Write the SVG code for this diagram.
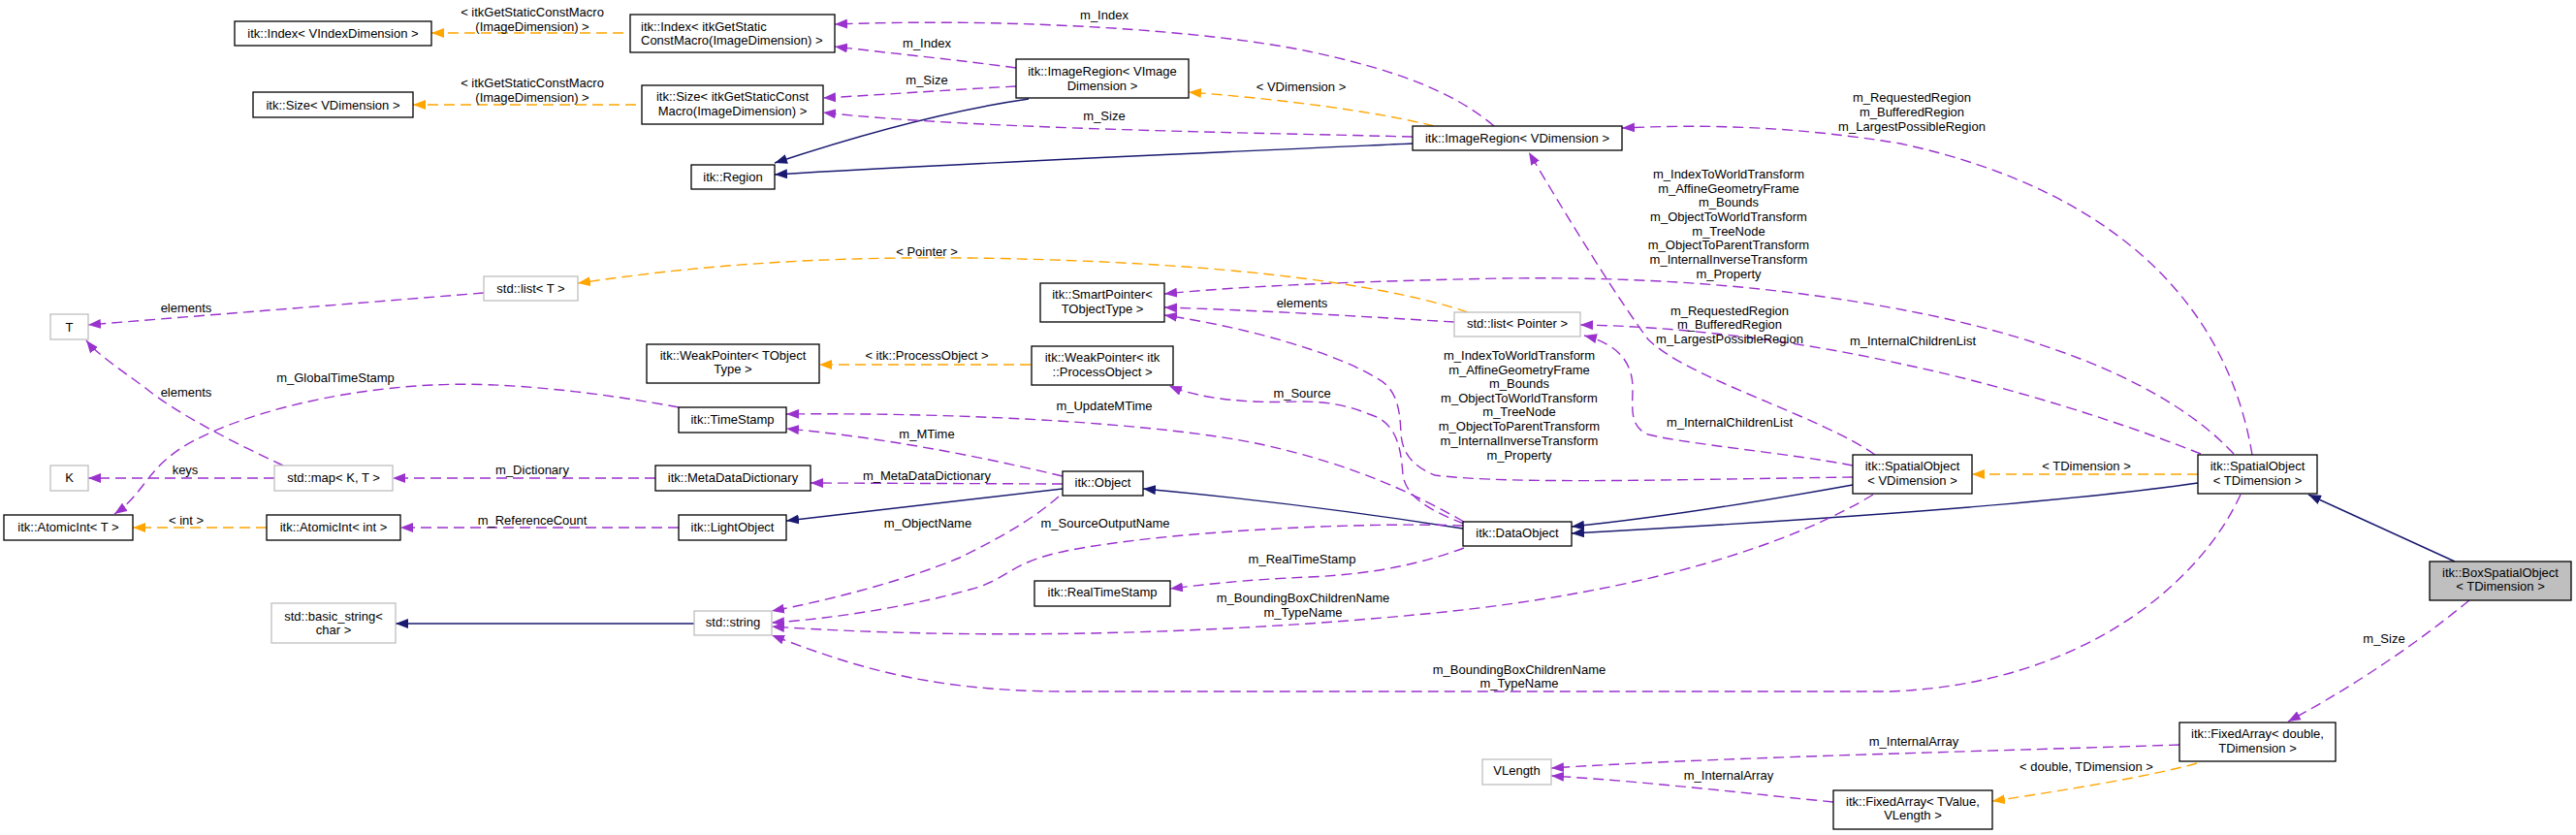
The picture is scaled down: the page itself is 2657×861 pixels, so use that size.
<svg xmlns="http://www.w3.org/2000/svg" width="2657" height="861" viewBox="0 0 2657 861">
<style>
text{font-family:"Liberation Sans",Arial,Helvetica,sans-serif;font-size:13px;fill:#000}
.n rect{fill:#fff;stroke:#000;stroke-width:1.3}
.n.u rect{stroke:#bfbfbf}
.n.cur rect{fill:#bfbfbf}
.n text,.lbl text{text-anchor:middle}
.n text.l{text-anchor:start}
.e{fill:none;stroke-width:1.4}
.p{stroke:#9a32cd;stroke-dasharray:11,6;marker-end:url(#ap)}
.o{stroke:#ffa500;stroke-dasharray:11,6;marker-end:url(#ao)}
.b{stroke:#191970;marker-end:url(#ab)}
</style>
<defs>
<marker id="ap" markerUnits="userSpaceOnUse" markerWidth="14" markerHeight="10" refX="13" refY="5" orient="auto"><path d="M0,0 L13,5 L0,10 z" fill="#9a32cd"/></marker>
<marker id="ao" markerUnits="userSpaceOnUse" markerWidth="14" markerHeight="10" refX="13" refY="5" orient="auto"><path d="M0,0 L13,5 L0,10 z" fill="#ffa500"/></marker>
<marker id="ab" markerUnits="userSpaceOnUse" markerWidth="14" markerHeight="10" refX="13" refY="5" orient="auto"><path d="M0,0 L13,5 L0,10 z" fill="#191970"/></marker>
</defs>
<rect width="2657" height="861" fill="#fff"/>

<g id="connectors">
<path class="e o" d="M643,34 L445,34"/>
<path class="e o" d="M656,108 L426,108"/>
<path class="e p" d="M1048,70 C990,62 920,55 861,48"/>
<path class="e p" d="M1048,89 C990,92 920,97 849,101"/>
<path class="e b" d="M1061,102 Q950,118 799,168"/>
<path class="e b" d="M1457,148 C1300,155 1000,168 799,180"/>
<path class="e p" d="M1541,130 C1500,95 1440,72 1350,53 C1250,32 1050,18 861,25"/>
<path class="e p" d="M1457,141 C1300,137 1000,133 849,116"/>
<path class="e o" d="M1479,130 C1420,115 1320,102 1226,95"/>
<path class="e p" d="M1934,469 C1880,430 1740,390 1700,350 C1670,310 1620,230 1577,157"/>
<path class="e p" d="M2323,469 C2300,330 2200,200 1960,148 C1850,130 1760,128 1673,132"/>
<path class="e p" d="M2304,468 C2250,410 2150,360 2000,327 C1850,295 1700,285 1550,287 C1400,290 1280,295 1201,303"/>
<path class="e p" d="M1500,332 C1400,326 1300,320 1201,317"/>
<path class="e p" d="M1911,492 C1750,494 1560,500 1480,490 C1455,480 1446,465 1445,447 C1444,420 1440,400 1420,390 C1380,365 1290,338 1201,325"/>
<path class="e p" d="M1510,540 C1470,525 1450,510 1447,490 C1445,460 1440,435 1412,427 C1390,418 1370,414 1340,414 C1290,416 1240,412 1206,398"/>
<path class="e p" d="M2270,468 C2200,440 2080,400 1960,375 C1850,350 1720,336 1630,335"/>
<path class="e p" d="M1911,480 C1850,468 1740,458 1700,448 C1680,440 1684,420 1684,400 C1684,375 1670,355 1634,346"/>
<path class="e o" d="M1514,322 C1450,300 1300,270 1000,266 C800,264 680,280 596,292"/>
<path class="e p" d="M499,302 L91,335"/>
<path class="e p" d="M292,480 C240,456 180,425 150,400 C120,378 100,365 89,351"/>
<path class="e p" d="M700,420 C620,405 520,393 446,397 C340,402 240,430 190,460 C150,485 148,510 118,530"/>
<path class="e p" d="M283,493 L91,493"/>
<path class="e p" d="M676,493 L405,493"/>
<path class="e o" d="M275,544 L137,544"/>
<path class="e p" d="M700,544 L413,544"/>
<path class="e o" d="M1063,376 L845,376"/>
<path class="e p" d="M1510,538 C1460,510 1400,480 1300,458 C1200,437 1000,425 811,427"/>
<path class="e p" d="M1096,491 C1000,468 900,450 811,442"/>
<path class="e p" d="M1096,499 L836,498"/>
<path class="e b" d="M1096,504 L811,537"/>
<path class="e b" d="M1509,545 C1400,528 1300,515 1179,504"/>
<path class="e b" d="M1911,500 C1800,520 1700,535 1621,543"/>
<path class="e b" d="M2267,498 C2150,515 1950,532 1621,550"/>
<path class="e b" d="M2532,579 L2381,510"/>
<path class="e o" d="M2267,489 L2034,489"/>
<path class="e p" d="M1092,512 C1060,540 1020,560 990,575 C930,600 850,620 796,630"/>
<path class="e p" d="M1509,542 C1400,538 1200,548 1100,568 C1040,580 1040,598 1000,608 C940,625 860,638 796,642"/>
<path class="e p" d="M1510,565 C1470,580 1420,592 1350,595 C1280,598 1240,603 1207,607"/>
<path class="e p" d="M1932,510 C1850,560 1700,610 1480,632 C1250,655 1000,660 796,646"/>
<path class="e p" d="M2311,510 C2270,600 2150,705 1950,713 L1100,713 C950,713 870,683 796,655"/>
<path class="e b" d="M716,643 L408,643"/>
<path class="e p" d="M2547,619 Q2460,690 2360,744"/>
<path class="e p" d="M2248,768 C2000,776 1750,782 1600,792"/>
<path class="e p" d="M1891,827 C1800,818 1700,806 1600,800"/>
<path class="e o" d="M2266,787 C2220,800 2130,815 2055,826"/>
</g>

<g id="edge-labels" class="lbl">
<text x="549" y="16.5">&lt; itkGetStaticConstMacro</text>
<text x="549" y="31.5">(ImageDimension) &gt;</text>
<text x="549" y="89.5">&lt; itkGetStaticConstMacro</text>
<text x="549" y="104.5">(ImageDimension) &gt;</text>
<text x="956" y="48.5">m_Index</text>
<text x="956" y="86.5">m_Size</text>
<text x="1139" y="20">m_Index</text>
<text x="1139" y="124">m_Size</text>
<text x="1342" y="93.5">&lt; VDimension &gt;</text>
<text x="1972" y="104.5">m_RequestedRegion</text>
<text x="1972" y="120">m_BufferedRegion</text>
<text x="1972" y="135">m_LargestPossibleRegion</text>
<text x="1783" y="184">m_IndexToWorldTransform</text>
<text x="1783" y="199">m_AffineGeometryFrame</text>
<text x="1783" y="213">m_Bounds</text>
<text x="1783" y="228">m_ObjectToWorldTransform</text>
<text x="1783" y="243">m_TreeNode</text>
<text x="1783" y="257">m_ObjectToParentTransform</text>
<text x="1783" y="272">m_InternalInverseTransform</text>
<text x="1783" y="287">m_Property</text>
<text x="1343" y="317">elements</text>
<text x="1567" y="371">m_IndexToWorldTransform</text>
<text x="1567" y="385.5">m_AffineGeometryFrame</text>
<text x="1567" y="400">m_Bounds</text>
<text x="1567" y="415">m_ObjectToWorldTransform</text>
<text x="1567" y="429">m_TreeNode</text>
<text x="1567" y="444">m_ObjectToParentTransform</text>
<text x="1567" y="459">m_InternalInverseTransform</text>
<text x="1567" y="473.5">m_Property</text>
<text x="1784" y="324.5">m_RequestedRegion</text>
<text x="1784" y="339">m_BufferedRegion</text>
<text x="1784" y="353.5">m_LargestPossibleRegion</text>
<text x="1973" y="355.5">m_InternalChildrenList</text>
<text x="1784" y="440">m_InternalChildrenList</text>
<text x="956" y="264">&lt; Pointer &gt;</text>
<text x="192" y="321.5">elements</text>
<text x="192" y="408.5">elements</text>
<text x="346" y="393.5">m_GlobalTimeStamp</text>
<text x="191" y="488.5">keys</text>
<text x="549" y="488.5">m_Dictionary</text>
<text x="192" y="540.5">&lt; int &gt;</text>
<text x="549" y="540.5">m_ReferenceCount</text>
<text x="956" y="371">&lt; itk::ProcessObject &gt;</text>
<text x="1139" y="423">m_UpdateMTime</text>
<text x="956" y="452">m_MTime</text>
<text x="956" y="495">m_MetaDataDictionary</text>
<text x="957" y="544">m_ObjectName</text>
<text x="1140" y="543.5">m_SourceOutputName</text>
<text x="1343" y="409.5">m_Source</text>
<text x="1343" y="580.5">m_RealTimeStamp</text>
<text x="1344" y="621">m_BoundingBoxChildrenName</text>
<text x="1344" y="636">m_TypeName</text>
<text x="1567" y="695">m_BoundingBoxChildrenName</text>
<text x="1567" y="709">m_TypeName</text>
<text x="2152" y="485">&lt; TDimension &gt;</text>
<text x="2459" y="663">m_Size</text>
<text x="1974" y="768.5">m_InternalArray</text>
<text x="1783" y="804">m_InternalArray</text>
<text x="2152" y="795">&lt; double, TDimension &gt;</text>
</g>

<g id="n-index-vindex" class="n"><rect x="242" y="22" width="203" height="25"/><text x="343.5" y="39">itk::Index&lt; VIndexDimension &gt;</text></g>
<g id="n-size-vdim" class="n"><rect x="261" y="95" width="165" height="26"/><text x="343.5" y="112.5">itk::Size&lt; VDimension &gt;</text></g>
<g id="n-index-gsc" class="n"><rect x="650" y="15" width="211" height="39"/><text class="l" x="661" y="31.5">itk::Index&lt; itkGetStatic</text><text class="l" x="661" y="45.5">ConstMacro(ImageDimension) &gt;</text></g>
<g id="n-size-gsc" class="n"><rect x="662" y="88" width="187" height="40"/><text x="755.5" y="104">itk::Size&lt; itkGetStaticConst</text><text x="755.5" y="119">Macro(ImageDimension) &gt;</text></g>
<g id="n-region" class="n"><rect x="713" y="170" width="86" height="25"/><text x="756" y="187">itk::Region</text></g>
<g id="n-imageregion-vimage" class="n"><rect x="1048" y="61" width="178" height="40"/><text x="1137" y="77.5">itk::ImageRegion&lt; VImage</text><text x="1137" y="92.5">Dimension &gt;</text></g>
<g id="n-imageregion-vdim" class="n"><rect x="1457" y="130" width="216" height="25"/><text x="1565" y="146.5">itk::ImageRegion&lt; VDimension &gt;</text></g>
<g id="n-list-t" class="n u"><rect x="499" y="285" width="97" height="25"/><text x="547.5" y="302">std::list&lt; T &gt;</text></g>
<g id="n-t" class="n u"><rect x="52" y="324" width="39" height="26"/><text x="71.5" y="341.5">T</text></g>
<g id="n-k" class="n u"><rect x="52" y="480" width="39" height="26"/><text x="71.5" y="497">K</text></g>
<g id="n-map" class="n u"><rect x="283" y="480" width="122" height="26"/><text x="344" y="497">std::map&lt; K, T &gt;</text></g>
<g id="n-atomicint-t" class="n"><rect x="4" y="531" width="133" height="26"/><text x="70.5" y="548">itk::AtomicInt&lt; T &gt;</text></g>
<g id="n-atomicint-int" class="n"><rect x="275" y="531" width="138" height="26"/><text x="344" y="548">itk::AtomicInt&lt; int &gt;</text></g>
<g id="n-smartpointer" class="n"><rect x="1073" y="292" width="128" height="40"/><text x="1137" y="308">itk::SmartPointer&lt;</text><text x="1137" y="323">TObjectType &gt;</text></g>
<g id="n-weakpointer-t" class="n"><rect x="667" y="355" width="178" height="40"/><text x="756" y="371">itk::WeakPointer&lt; TObject</text><text x="756" y="385">Type &gt;</text></g>
<g id="n-weakpointer-po" class="n"><rect x="1064" y="357" width="146" height="40"/><text x="1137" y="373">itk::WeakPointer&lt; itk</text><text x="1137" y="388">::ProcessObject &gt;</text></g>
<g id="n-timestamp" class="n"><rect x="700" y="420" width="111" height="26"/><text x="755.5" y="437">itk::TimeStamp</text></g>
<g id="n-metadatadictionary" class="n"><rect x="676" y="480" width="160" height="26"/><text x="756" y="497">itk::MetaDataDictionary</text></g>
<g id="n-object" class="n"><rect x="1096" y="486" width="83" height="25"/><text x="1137.5" y="502">itk::Object</text></g>
<g id="n-lightobject" class="n"><rect x="700" y="531" width="111" height="26"/><text x="755.5" y="548">itk::LightObject</text></g>
<g id="n-list-pointer" class="n u"><rect x="1500" y="322" width="130" height="25"/><text x="1565" y="338">std::list&lt; Pointer &gt;</text></g>
<g id="n-spatialobject-vdim" class="n"><rect x="1911" y="469" width="123" height="40"/><text x="1972.5" y="485">itk::SpatialObject</text><text x="1972.5" y="500">&lt; VDimension &gt;</text></g>
<g id="n-dataobject" class="n"><rect x="1509" y="538" width="112" height="25"/><text x="1565" y="554">itk::DataObject</text></g>
<g id="n-spatialobject-tdim" class="n"><rect x="2267" y="469" width="123" height="40"/><text x="2328.5" y="485">itk::SpatialObject</text><text x="2328.5" y="500">&lt; TDimension &gt;</text></g>
<g id="n-string" class="n u"><rect x="716" y="630" width="80" height="25"/><text x="756" y="646">std::string</text></g>
<g id="n-basic-string" class="n u"><rect x="280" y="622" width="128" height="41"/><text x="344" y="639.5">std::basic_string&lt;</text><text x="344" y="653.5">char &gt;</text></g>
<g id="n-realtimestamp" class="n"><rect x="1067" y="599" width="140" height="26"/><text x="1137" y="615">itk::RealTimeStamp</text></g>
<g id="n-vlength" class="n u"><rect x="1529" y="783" width="71" height="26"/><text x="1564.5" y="799">VLength</text></g>
<g id="n-fixedarray-tvalue" class="n"><rect x="1891" y="815" width="164" height="40"/><text x="1973" y="831">itk::FixedArray&lt; TValue,</text><text x="1973" y="845">VLength &gt;</text></g>
<g id="n-fixedarray-double" class="n"><rect x="2248" y="745" width="161" height="40"/><text x="2328.5" y="761">itk::FixedArray&lt; double,</text><text x="2328.5" y="776">TDimension &gt;</text></g>
<g id="n-boxspatialobject" class="n cur"><rect x="2506" y="579" width="146" height="40"/><text x="2579" y="595">itk::BoxSpatialObject</text><text x="2579" y="609">&lt; TDimension &gt;</text></g>
</svg>
